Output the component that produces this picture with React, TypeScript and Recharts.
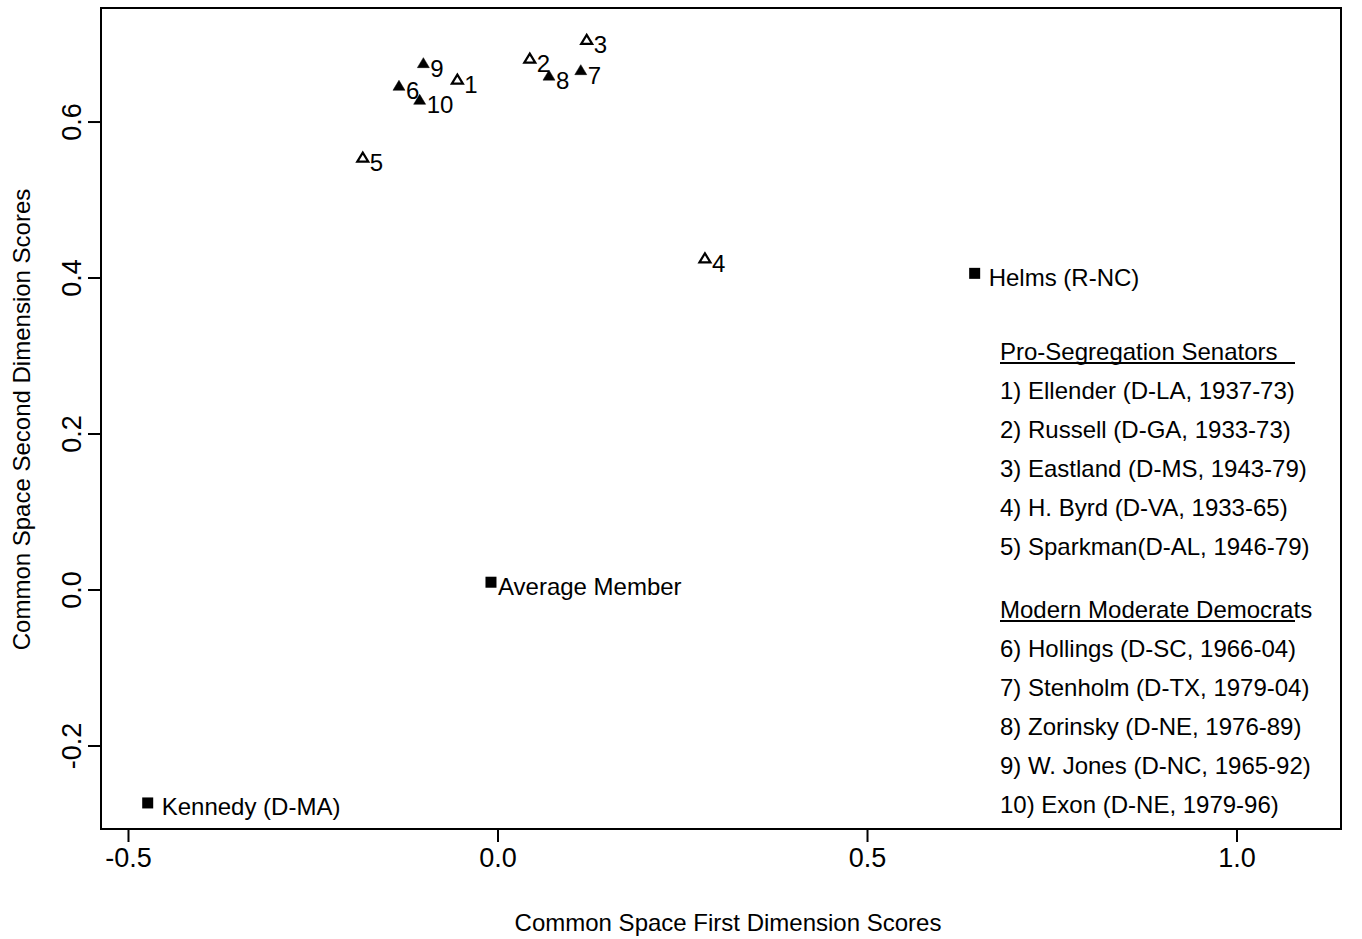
import {
  ScatterChart,
  Scatter,
  XAxis,
  YAxis,
  ReferenceArea,
  Legend,
  Label,
} from 'recharts'

// pro-segregation senators (open triangles)
const proSegIds = ['1', '2', '3', '4', '5']
const proSegX = [-0.055, 0.043, 0.12, 0.28, -0.183]
const proSegY = [0.653, 0.68, 0.704, 0.424, 0.553]

// modern moderate democrats (filled triangles)
const moderateIds = ['6', '7', '8', '9', '10']
const moderateX = [-0.134, 0.112, 0.069, -0.101, -0.106]
const moderateY = [0.645, 0.665, 0.658, 0.674, 0.627]

// reference members (filled squares)
const refNames = ['Kennedy (D-MA)', 'Average Member', 'Helms (R-NC)']
const refX = [-0.474, -0.0095, 0.645]
const refY = [-0.273, 0.01, 0.406]

const xTicks = [-0.5, 0, 0.5, 1.0]
const yTicks = [-0.2, 0, 0.2, 0.4, 0.6]
const xDomain = [-0.5372, 1.1407]
const yDomain = [-0.3064, 0.7462]

const proSegLegend = [
  '1) Ellender (D-LA, 1937-73)',
  '2) Russell (D-GA, 1933-73)',
  '3) Eastland (D-MS, 1943-79)',
  '4) H. Byrd (D-VA, 1933-65)',
  '5) Sparkman(D-AL, 1946-79)',
]
const moderateLegend = [
  '6) Hollings (D-SC, 1966-04)',
  '7) Stenholm (D-TX, 1979-04)',
  '8) Zorinsky (D-NE, 1976-89)',
  '9) W. Jones (D-NC, 1965-92)',
  '10) Exon (D-NE, 1979-96)',
]

const FONT = '"Liberation Sans", Arial, Helvetica, sans-serif'

const toPoints = (ids: string[], xs: number[], ys: number[]) =>
  ids.map((label, i) => ({ label, x: xs[i], y: ys[i] }))

const proSegData = toPoints(proSegIds, proSegX, proSegY)
const moderateData = toPoints(moderateIds, moderateX, moderateY)
const refData = toPoints(refNames, refX, refY)

// label gap from marker centre
const labelGap: Record<string, number> = {
  'Kennedy (D-MA)': 14,
  'Helms (R-NC)': 14,
}

const makeTriangle = (filled: boolean) => (props: any) => {
  const { cx, cy, payload } = props
  const s = filled ? 12 : 11
  const h = filled ? 10 : 9
  const d = `M${cx},${cy - (2 * h) / 3} L${cx + s / 2},${cy + h / 3} L${cx - s / 2},${cy + h / 3} Z`
  return (
    <g>
      <path
        d={d}
        fill={filled ? '#000' : '#fff'}
        stroke="#000"
        strokeWidth={filled ? 0.5 : 2.2}
        strokeLinejoin="miter"
      />
      <text x={cx + 7} y={cy + 4} fontSize={24} fontFamily={FONT} dominantBaseline="central" fill="#000">
        {payload.label}
      </text>
    </g>
  )
}

const SquareShape = (props: any) => {
  const { cx, cy, payload } = props
  const gap = labelGap[payload.label] ?? 7
  return (
    <g>
      <rect x={cx - 5.5} y={cy - 5.5} width={11} height={11} fill="#000" />
      <text x={cx + gap} y={cy + 4} fontSize={24} fontFamily={FONT} dominantBaseline="central" fill="#000">
        {payload.label}
      </text>
    </g>
  )
}

const XTick = (props: any) => {
  const { x, y, payload } = props
  return (
    <text x={x} y={y + 14} textAnchor="middle" dominantBaseline="central" fontSize={27} fontFamily={FONT} fill="#000">
      {Number(payload.value).toFixed(1)}
    </text>
  )
}

const YTick = (props: any) => {
  const { x, y, payload } = props
  return (
    <text
      x={x - 14}
      y={y}
      transform={`rotate(-90, ${x - 14}, ${y})`}
      textAnchor="middle"
      dominantBaseline="central"
      fontSize={27}
      fontFamily={FONT}
      fill="#000"
    >
      {Number(payload.value).toFixed(1)}
    </text>
  )
}

const LegendBlock = () => {
  const line = (text: string, top: number, key: string) => (
    <div key={key} style={{ position: 'absolute', left: 0, top, height: 39, lineHeight: '39px', whiteSpace: 'nowrap' }}>
      {text}
    </div>
  )
  const second = 258
  return (
    <div style={{ position: 'relative', fontFamily: FONT, fontSize: 24, color: '#000', width: 340, height: 480 }}>
      {line('Pro-Segregation Senators', 0, 'h1')}
      <div style={{ position: 'absolute', left: 0, top: 30, width: 295, height: 2, background: '#000' }} />
      {proSegLegend.map((t, i) => line(t, 39 * (i + 1), 'p' + i))}
      {line('Modern Moderate Democrats', second, 'h2')}
      <div style={{ position: 'absolute', left: 0, top: second + 30, width: 295, height: 2, background: '#000' }} />
      {moderateLegend.map((t, i) => line(t, second + 39 * (i + 1), 'm' + i))}
    </div>
  )
}

export default function App() {
  return (
    <div style={{ position: 'absolute', left: 0, top: 0, background: '#fff' }}>
      <ScatterChart width={1362} height={939} margin={{ top: 8, right: 21, bottom: 0, left: 0 }}>
        <XAxis
          type="number"
          dataKey="x"
          domain={xDomain}
          ticks={xTicks}
          allowDataOverflow
          height={110}
          axisLine={false}
          tickSize={13}
          tickLine={{ stroke: '#000', strokeWidth: 2 }}
          tick={<XTick />}
          interval={0}
        >
          <Label
            content={(p: any) => {
              const vb = p.viewBox
              return (
                <text
                  x={vb.x + vb.width / 2 + 7}
                  y={vb.y + 93}
                  textAnchor="middle"
                  dominantBaseline="central"
                  fontSize={24}
                  fontFamily={FONT}
                  fill="#000"
                >
                  Common Space First Dimension Scores
                </text>
              )
            }}
          />
        </XAxis>
        <YAxis
          type="number"
          dataKey="y"
          domain={yDomain}
          ticks={yTicks}
          allowDataOverflow
          width={101}
          axisLine={false}
          tickSize={13}
          tickLine={{ stroke: '#000', strokeWidth: 2 }}
          tick={<YTick />}
          interval={0}
        >
          <Label
            content={(p: any) => {
              const vb = p.viewBox
              const cx = vb.x + 21
              const cy = vb.y + vb.height / 2 + 1
              return (
                <text
                  x={cx}
                  y={cy}
                  transform={`rotate(-90, ${cx}, ${cy})`}
                  textAnchor="middle"
                  dominantBaseline="central"
                  fontSize={24}
                  fontFamily={FONT}
                  fill="#000"
                >
                  Common Space Second Dimension Scores
                </text>
              )
            }}
          />
        </YAxis>
        <ReferenceArea
          x1={xDomain[0]}
          x2={xDomain[1]}
          y1={yDomain[0]}
          y2={yDomain[1]}
          fill="none"
          stroke="#000"
          strokeWidth={2}
          ifOverflow="visible"
        />
        <Scatter name="pro-seg" data={proSegData} shape={makeTriangle(false)} isAnimationActive={false} />
        <Scatter name="moderate" data={moderateData} shape={makeTriangle(true)} isAnimationActive={false} />
        <Scatter name="reference" data={refData} shape={SquareShape} isAnimationActive={false} />
        <Legend
          layout="vertical"
          align="center"
          verticalAlign="middle"
          wrapperStyle={{ left: 1000, top: 332, width: 340, height: 480 }}
          content={() => <LegendBlock />}
        />
      </ScatterChart>
    </div>
  )
}
